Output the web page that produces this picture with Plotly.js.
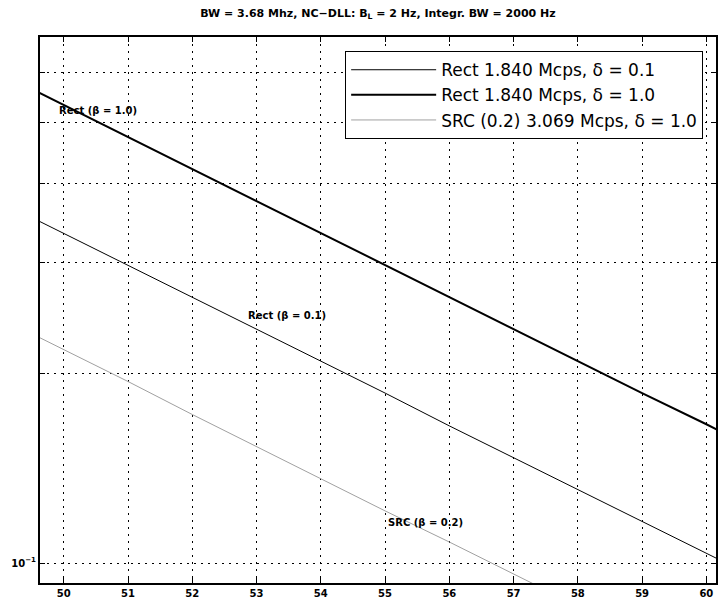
<!DOCTYPE html>
<html>
<head>
<meta charset="utf-8">
<script src="https://cdn.plot.ly/plotly-3.0.1.min.js"></script>
<style>html,body{margin:0;padding:0;background:#fff;}#chart{width:718px;height:606px;}</style>
</head>
<body>
<div id="chart"></div>
<script>
// C/N0 (dB-Hz) sample points
const xValues = [49.5, 50, 51, 52, 53, 54, 55, 56, 57, 58, 59, 60, 60.5];
// Rect 1.840 Mcps, delta = 0.1
const rectD01 = [0.353, 0.333, 0.297, 0.264, 0.235, 0.209, 0.186, 0.165, 0.147, 0.131, 0.1165, 0.1037, 0.0978];
// Rect 1.840 Mcps, delta = 1.0
const rectD10 = [0.564, 0.532, 0.474, 0.422, 0.375, 0.334, 0.297, 0.264, 0.235, 0.209, 0.186, 0.166, 0.1566];
// SRC (0.2) 3.069 Mcps, delta = 1.0
const srcD10 = [0.231, 0.218, 0.194, 0.172, 0.153, 0.136, 0.121, 0.108, 0.0961, 0.0855, 0.0761, 0.0677, 0.0639];

const seriesNames = ["Rect 1.840 Mcps, δ = 0.1", "Rect 1.840 Mcps, δ = 1.0", "SRC (0.2) 3.069 Mcps, δ = 1.0"];
const xTicks = [50, 51, 52, 53, 54, 55, 56, 57, 58, 59, 60];
const yMajorTicks = [0.1];
const yMajorText = ["10<sup>−1</sup>"];
const yMinorTicks = [0.2, 0.3, 0.4, 0.5, 0.6];

// in-plot labels
const labelText = ["Rect (β = 1.0)", "Rect (β = 0.1)", "SRC (β = 0.2)"];
const labelX = [49.89, 52.84, 55.02];
const labelY = [0.522, 0.247, 0.1161];

const traces = [
  {x: xValues, y: rectD01, name: seriesNames[0], mode: "lines", line: {color: "#000", width: 1}},
  {x: xValues, y: rectD10, name: seriesNames[1], mode: "lines", line: {color: "#000", width: 2}},
  {x: xValues, y: srcD10, name: seriesNames[2], mode: "lines", line: {color: "#a0a0a0", width: 1}}
];

const annFont = {family: "DejaVu Sans, Arial, sans-serif", size: 10, color: "#000", weight: "bold"};
const annotations = labelText.map((t, i) => ({
  x: labelX[i], y: Math.log10(labelY[i]), xref: "x", yref: "y",
  text: t, showarrow: false, xanchor: "left", yanchor: "middle", font: annFont
}));

const tickFont = {family: "DejaVu Sans, Arial, sans-serif", size: 10, color: "#000", weight: "bold"};
const gridDash = "2px,5px";

const layout = {
  width: 718, height: 606,
  margin: {l: 40, r: 2, t: 37, b: 23, pad: 0},
  paper_bgcolor: "#fff", plot_bgcolor: "#fff",
  showlegend: true,
  title: {
    text: "BW = 3.68 Mhz, NC−DLL: B<sub>L</sub> = 2 Hz, Integr. BW = 2000 Hz",
    font: {family: "DejaVu Sans, Arial, sans-serif", size: 11, color: "#000", weight: "bold"},
    xref: "paper", x: 0.5, xanchor: "center",
    yref: "container", y: 0.978, yanchor: "middle"
  },
  xaxis: {
    range: [49.63, 60.15],
    tickmode: "array",
    tickvals: xTicks,
    ticktext: xTicks.map(String),
    ticks: "inside", ticklen: 5, tickwidth: 1, tickcolor: "#000",
    showline: true, linecolor: "#000", linewidth: 2, mirror: "ticks",
    showgrid: true, gridcolor: "#000", gridwidth: 1, griddash: gridDash,
    zeroline: false,
    tickfont: tickFont
  },
  yaxis: {
    type: "log",
    range: [Math.log10(0.093), Math.log10(0.682)],
    tickmode: "array",
    tickvals: yMajorTicks,
    ticktext: yMajorText,
    ticks: "inside", ticklen: 5, tickwidth: 1, tickcolor: "#000",
    showline: true, linecolor: "#000", linewidth: 2, mirror: "ticks",
    showgrid: true, gridcolor: "#000", gridwidth: 1, griddash: gridDash,
    zeroline: false,
    tickfont: tickFont,
    minor: {
      tickmode: "array", tickvals: yMinorTicks,
      ticks: "inside", ticklen: 5, tickwidth: 1, tickcolor: "#000",
      showgrid: true, gridcolor: "#000", gridwidth: 1, griddash: gridDash
    }
  },
  legend: {
    x: 0.981, y: 0.974, xanchor: "right", yanchor: "top",
    bgcolor: "#fff", bordercolor: "#000", borderwidth: 1,
    font: {family: "DejaVu Sans, Arial, sans-serif", size: 17, color: "#000"},
    itemwidth: 85,
    tracegroupgap: 0
  },
  annotations: annotations
};

Plotly.newPlot("chart", traces, layout, {displayModeBar: false, staticPlot: true});
</script>
</body>
</html>
